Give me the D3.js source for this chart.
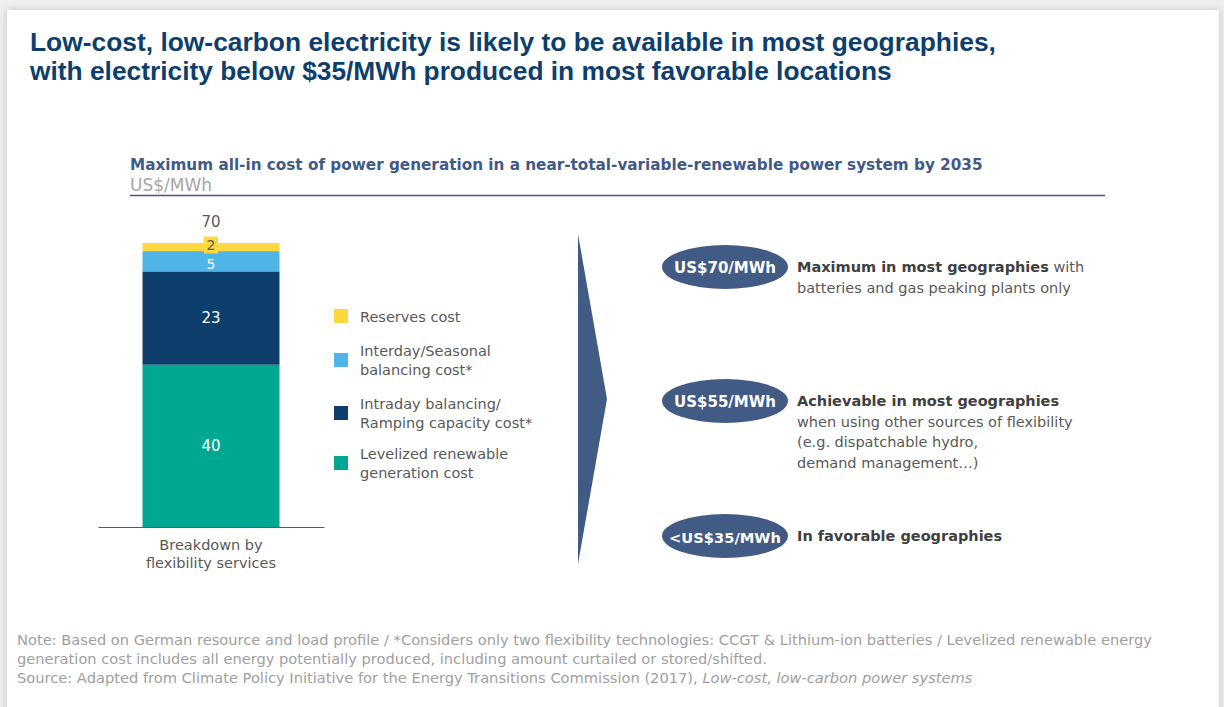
<!DOCTYPE html>
<html><head><meta charset="utf-8">
<script src="https://cdn.jsdelivr.net/npm/d3@7"></script>
<style>
html,body{margin:0;padding:0;background:#efefef;}
#card{position:absolute;left:7px;top:10px;width:1212px;height:720px;background:#fff;box-shadow:0 0 8px rgba(0,0,0,0.18);}
svg{position:absolute;left:0;top:0;}
</style></head>
<body><div id="card"></div>
<script>
// ---- data ----
const categories = ["Breakdown by flexibility services"];
const segNames = ["Levelized renewable generation cost", "Intraday balancing/Ramping capacity cost*", "Interday/Seasonal balancing cost*", "Reserves cost"];
const segValues = [40, 23, 5, 2];
const segColors = ["#00a893", "#0e3f6c", "#4fb4e6", "#fed83e"];
const legendLines = [["Reserves cost"], ["Interday/Seasonal", "balancing cost*"], ["Intraday balancing/", "Ramping capacity cost*"], ["Levelized renewable", "generation cost"]];
const legendColorIdx = [3, 2, 1, 0];
const totalValue = 70;
const pills = ["US$70/MWh", "US$55/MWh", "<US$35/MWh"];
const pillText = [
  [[{b:"Maximum in most geographies"},{t:" with"}],[{t:"batteries and gas peaking plants only"}]],
  [[{b:"Achievable in most geographies"}],[{t:"when using other sources of flexibility"}],[{t:"(e.g. dispatchable hydro,"}],[{t:"demand management…)"}]],
  [[{b:"In favorable geographies"}]]
];

const W = 1224, H = 707;
const svg = d3.select("body").append("svg").attr("width", W).attr("height", H);
const FONT = "DejaVu Sans, sans-serif";

function fit(sel, target) {
  const n = sel.node();
  const len = n.getComputedTextLength();
  const fs = parseFloat(sel.attr("font-size"));
  sel.attr("font-size", (fs * target / len).toFixed(2));
  return sel;
}

// title
const tCol = "#0e3f6c";
fit(svg.append("text").attr("x", 30).attr("y", 42).attr("dominant-baseline", "central")
  .attr("font-family", "Liberation Sans, sans-serif").attr("font-weight", "bold").attr("font-size", 22).attr("fill", tCol)
  .text("Low-cost, low-carbon electricity is likely to be available in most geographies,"), 966);
fit(svg.append("text").attr("x", 30).attr("y", 71).attr("dominant-baseline", "central")
  .attr("font-family", "Liberation Sans, sans-serif").attr("font-weight", "bold").attr("font-size", 22).attr("fill", tCol)
  .text("with electricity below $35/MWh produced in most favorable locations"), 862);

// subtitle
fit(svg.append("text").attr("x", 130).attr("y", 165).attr("dominant-baseline", "central")
  .attr("font-family", FONT).attr("font-weight", "bold").attr("font-size", 15).attr("fill", "#3f5a86")
  .text("Maximum all-in cost of power generation in a near-total-variable-renewable power system by 2035"), 853);
fit(svg.append("text").attr("x", 130).attr("y", 185).attr("dominant-baseline", "central")
  .attr("font-family", FONT).attr("font-size", 15).attr("fill", "#a6a6a6").text("US$/MWh"), 82);
svg.append("line").attr("x1", 130).attr("x2", 1105).attr("y1", 195.5).attr("y2", 195.5)
  .attr("stroke", "#3f5a86").attr("stroke-width", 1.5);

// scales
const x = d3.scaleBand().domain(categories).range([98, 324]).paddingInner(0).paddingOuter(0.325);
const y = d3.scaleLinear().domain([0, totalValue]).range([527, 243]);

let cum = 0;
const stackData = segValues.map((v, i) => { const d = {v, i, y0: cum, y1: cum + v}; cum += v; return d; });

const g = svg.append("g");
g.selectAll("rect.seg").data(stackData).join("rect").attr("class", "seg")
  .attr("x", x(categories[0])).attr("width", x.bandwidth())
  .attr("y", d => y(d.y1)).attr("height", d => y(d.y0) - y(d.y1))
  .attr("fill", d => segColors[d.i]);

// baseline axis
const axis = d3.axisBottom(x).tickSize(0).tickFormat("");
const ag = svg.append("g").attr("transform", `translate(0,${y(0)})`).call(axis);
ag.select(".domain").attr("stroke", "#595959").attr("stroke-width", 1.2);

// category label
const cx = x(categories[0]) + x.bandwidth() / 2;
svg.append("text").attr("x", cx).attr("y", 545).attr("text-anchor", "middle").attr("dominant-baseline", "central")
  .attr("font-family", FONT).attr("font-size", 14.5).attr("fill", "#595959").text("Breakdown by");
svg.append("text").attr("x", cx).attr("y", 563).attr("text-anchor", "middle").attr("dominant-baseline", "central")
  .attr("font-family", FONT).attr("font-size", 14.5).attr("fill", "#595959").text("flexibility services");

// segment labels
stackData.forEach(d => {
  const my = (y(d.y0) + y(d.y1)) / 2;
  if (d.i === 3) {
    svg.append("rect").attr("x", cx - 7).attr("y", my - 10.5).attr("width", 14).attr("height", 17).attr("fill", segColors[3]);
    svg.append("text").attr("x", cx).attr("y", my - 2).attr("text-anchor", "middle").attr("dominant-baseline", "central")
      .attr("font-family", FONT).attr("font-size", 14).attr("fill", "#595959").text(d.v);
  } else if (d.i === 2) {
    svg.append("text").attr("x", cx).attr("y", my + 3).attr("text-anchor", "middle").attr("dominant-baseline", "central")
      .attr("font-family", FONT).attr("font-size", 14).attr("fill", "#ffffff").text(d.v);
  } else {
    svg.append("text").attr("x", cx).attr("y", my).attr("text-anchor", "middle").attr("dominant-baseline", "central")
      .attr("font-family", FONT).attr("font-size", 15).attr("fill", "#ffffff").text(d.v);
  }
});
svg.append("text").attr("x", cx).attr("y", y(totalValue) - 21).attr("text-anchor", "middle").attr("dominant-baseline", "central")
  .attr("font-family", FONT).attr("font-size", 15).attr("fill", "#595959").text(totalValue);

// legend
const legY = [316, 360, 413, 463];
legendLines.forEach((lines, k) => {
  svg.append("rect").attr("x", 334).attr("y", legY[k] - 7).attr("width", 14).attr("height", 14).attr("fill", segColors[legendColorIdx[k]]);
  lines.forEach((ln, j) => {
    const yy = legY[k] + (j - (lines.length - 1) / 2) * 19 + (lines.length === 1 ? 1 : 0);
    svg.append("text").attr("x", 360).attr("y", yy).attr("dominant-baseline", "central")
      .attr("font-family", FONT).attr("font-size", 14.5).attr("fill", "#595959").text(ln);
  });
});

// chevron
svg.append("path").attr("d", "M578,234 L607,399 L578,564 Z").attr("fill", "#425b84");

// pills
const pillY = [267, 401, 536];
pills.forEach((p, k) => {
  svg.append("ellipse").attr("cx", 725).attr("cy", pillY[k]).attr("rx", 63).attr("ry", 22).attr("fill", "#425b84");
  const t = svg.append("text").attr("x", 725).attr("y", pillY[k] + 1).attr("text-anchor", "middle").attr("dominant-baseline", "central")
    .attr("font-family", FONT).attr("font-weight", "bold").attr("font-size", 15).attr("fill", "#ffffff").text(p);
  fit(t, k === 2 ? 112 : 102);
  pillText[k].forEach((line, j) => {
    const tt = svg.append("text").attr("x", 797).attr("y", pillY[k] + j * 20.5).attr("dominant-baseline", "central")
      .attr("font-family", FONT).attr("font-size", 14.5).attr("fill", "#595959");
    line.forEach(seg => {
      if (seg.b) tt.append("tspan").attr("font-weight", "bold").attr("fill", "#404040").text(seg.b);
      else tt.append("tspan").text(seg.t);
    });
  });
});

// footnote
const fn = [
  ["Note: Based on German resource and load profile / *Considers only two flexibility technologies: CCGT & Lithium-ion batteries / Levelized renewable energy", null],
  ["generation cost includes all energy potentially produced, including amount curtailed or stored/shifted.", null],
  ["Source: Adapted from Climate Policy Initiative for the Energy Transitions Commission (2017), ", "Low-cost, low-carbon power systems"]
];
const fnY = [639, 658, 677];
const fnNodes = fn.map((f, k) => {
  const t = svg.append("text").attr("x", 17).attr("y", fnY[k]).attr("dominant-baseline", "central")
    .attr("font-family", FONT).attr("font-size", 13).attr("fill", "#a0a0a0");
  t.append("tspan").text(f[0]);
  if (f[1]) t.append("tspan").attr("font-style", "italic").text(f[1]);
  return t;
});
{
  const len = fnNodes[0].node().getComputedTextLength();
  const fs = 13 * 1136 / len;
  fnNodes.forEach(t => t.attr("font-size", fs.toFixed(2)));
}
</script></body></html>
